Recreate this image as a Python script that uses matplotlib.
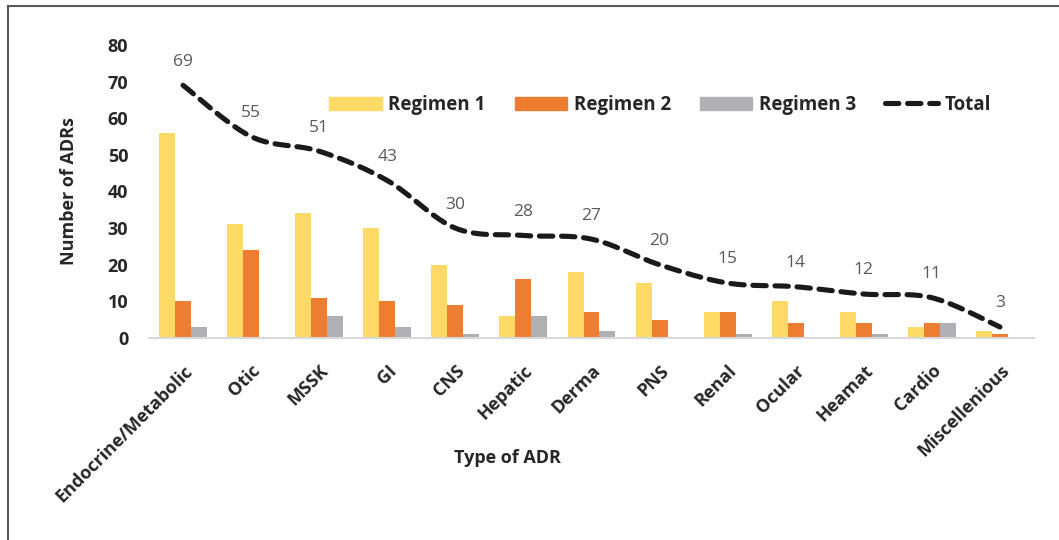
import numpy as np
import matplotlib.pyplot as plt
from matplotlib.lines import Line2D
from matplotlib.patches import Patch

plt.rcParams['font.family'] = ['Open Sans', 'DejaVu Sans']

categories = ['Endocrine/Metabolic', 'Otic', 'MSSK', 'GI', 'CNS', 'Hepatic', 'Derma',
              'PNS', 'Renal', 'Ocular', 'Heamat', 'Cardio', 'Miscellenious']
regimen1 = [56, 31, 34, 30, 20, 6, 18, 15, 7, 10, 7, 3, 2]
regimen2 = [10, 24, 11, 10, 9, 16, 7, 5, 7, 4, 4, 4, 1]
regimen3 = [3, 0, 6, 3, 1, 6, 2, 0, 1, 0, 1, 4, 0]
total = [69, 55, 51, 43, 30, 28, 27, 20, 15, 14, 12, 11, 3]

c1 = '#FFD966'
c2 = '#ED7D31'
c3 = '#B0B0B4'
lab_col = '#262626'
bold = 'bold'
fs = 13


def smooth(xs, ys, n=40):
    # catmull-rom through the points, ends repeated
    xs = np.asarray(xs, float)
    ys = np.asarray(ys, float)
    px = np.concatenate([[xs[0]], xs, [xs[-1]]])
    py = np.concatenate([[ys[0]], ys, [ys[-1]]])
    t = np.linspace(0, 1, n)
    outx, outy = [], []
    for i in range(1, len(px) - 2):
        for p, out in ((px, outx), (py, outy)):
            p0, p1, p2, p3 = p[i - 1], p[i], p[i + 1], p[i + 2]
            out.extend(0.5 * (2 * p1 + (-p0 + p2) * t
                              + (2 * p0 - 5 * p1 + 4 * p2 - p3) * t ** 2
                              + (-p0 + 3 * p1 - 3 * p2 + p3) * t ** 3))
    return np.array(outx), np.array(outy)


fig = plt.figure(figsize=(10.59, 5.40), dpi=100)
ax = fig.add_axes([149 / 1059, 1 - 338 / 540, (1034 - 149) / 1059, (338 - 45) / 540])

x = np.arange(len(categories))
w = 0.235
ax.bar(x - w, regimen1, w, color=c1, label='Regimen 1')
ax.bar(x, regimen2, w, color=c2, label='Regimen 2')
ax.bar(x + w, regimen3, w, color=c3, label='Regimen 3')

dash = (0, (2.6, 1.7))
sx, sy = smooth(x, total)
ax.plot(sx, sy, color='#1a1a1a', lw=3.7, ls=dash,
        dash_capstyle='round', solid_capstyle='round', label='Total')

for xi, t in zip(x, total):
    ax.annotate(str(t), (xi, t), xytext=(0, 17), textcoords='offset points',
                ha='center', va='center', fontsize=12.5, color='#595959')

ax.set_xlim(-0.5, len(categories) - 0.5)
ax.set_ylim(0, 80)
ax.set_yticks(range(0, 81, 10))
ax.set_xticks(x)
ax.set_xticklabels(categories, rotation=45, ha='right', rotation_mode='anchor',
                   fontsize=fs, fontweight=bold, color=lab_col)
ax.tick_params(axis='y', labelsize=fs, length=0, pad=15, labelcolor=lab_col)
ax.tick_params(axis='x', length=0, pad=17)
for lbl in ax.get_yticklabels():
    lbl.set_fontweight(bold)
for s in ['top', 'right', 'left']:
    ax.spines[s].set_visible(False)
ax.spines['bottom'].set_color('#D9D9D9')
ax.spines['bottom'].set_linewidth(1.5)

ax.set_ylabel('Number of ADRs', fontsize=fs, fontweight=bold, color=lab_col, labelpad=21)
ax.set_xlabel('Type of ADR', fontsize=fs, fontweight=bold, color=lab_col)
ax.xaxis.set_label_coords(0.405, -0.38)

handles = [Patch(color=c1), Patch(color=c2), Patch(color=c3),
           Line2D([], [], color='#1a1a1a', lw=3.7, ls=dash, dash_capstyle='round')]
leg = ax.legend(handles, ['Regimen 1', 'Regimen 2', 'Regimen 3', 'Total'], ncol=4,
                loc='center', bbox_to_anchor=(660 / 1059, 1 - 105 / 540),
                bbox_transform=fig.transFigure, frameon=False,
                prop={'size': 13.5, 'weight': bold}, handlelength=2.8, handleheight=0.75,
                handletextpad=0.35, columnspacing=1.55)
for txt in leg.get_texts():
    txt.set_color(lab_col)

# frame lines at top and left
fig.add_artist(Line2D([8 / 1059, 8 / 1059], [0, 1 - 6 / 540], transform=fig.transFigure,
                      color='#595959', lw=1.5))
fig.add_artist(Line2D([8 / 1059, 1], [1 - 6 / 540, 1 - 6 / 540], transform=fig.transFigure,
                      color='#595959', lw=1.5))

fig.savefig('out.png', dpi=100)
